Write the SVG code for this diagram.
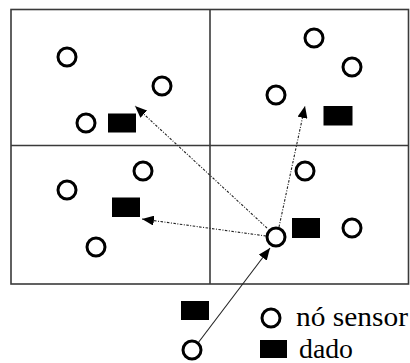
<svg xmlns="http://www.w3.org/2000/svg" width="410" height="363" viewBox="0 0 410 363">
  <style>
    .grid { fill: none; stroke: #3a3a3a; stroke-width: 1.6; }
    .node { fill: #fff; stroke: #000; stroke-width: 3; }
    .data { fill: #000; }
    .dot { fill: none; stroke: #222; stroke-width: 1.1; stroke-dasharray: 2.5 1.5 1 1.5; }
    .solid { fill: none; stroke: #222; stroke-width: 1.1; }
    .lbl { font-family: "Liberation Serif", "DejaVu Serif", serif; font-size: 27px; fill: #000; }
  </style>
  <defs>
    <marker id="head" viewBox="0 0 12 10" refX="12" refY="5" markerWidth="12" markerHeight="10" markerUnits="userSpaceOnUse" orient="auto">
      <path d="M0,0 L12,5 L0,10 Z" fill="#000"/>
    </marker>
  </defs>

  <!-- field divided into four cells -->
  <g id="field">
    <rect class="grid" x="11" y="9.5" width="397.5" height="274.5"/>
    <line class="grid" x1="210" y1="9.5" x2="210" y2="284"/>
    <line class="grid" x1="11" y1="145.5" x2="408.5" y2="145.5"/>
  </g>

  <!-- connectors -->
  <g id="connectors">
    <line class="dot" x1="267" y1="228" x2="135" y2="106" marker-end="url(#head)"/>
    <line class="dot" x1="279" y1="227" x2="305" y2="106" marker-end="url(#head)"/>
    <line class="dot" x1="266" y1="236" x2="142" y2="219" marker-end="url(#head)"/>
    <line class="solid" x1="198" y1="343" x2="270" y2="248" marker-end="url(#head)"/>
  </g>

  <!-- sensor nodes -->
  <g id="n1"><circle class="node" cx="67" cy="57" r="9"/></g>
  <g id="n2"><circle class="node" cx="162" cy="86" r="9"/></g>
  <g id="n3"><circle class="node" cx="86" cy="123" r="9"/></g>
  <g id="n4"><circle class="node" cx="314" cy="38" r="9"/></g>
  <g id="n5"><circle class="node" cx="352" cy="67" r="9"/></g>
  <g id="n6"><circle class="node" cx="276" cy="95" r="9"/></g>
  <g id="n7"><circle class="node" cx="143" cy="171" r="9"/></g>
  <g id="n8"><circle class="node" cx="67" cy="190" r="9"/></g>
  <g id="n9"><circle class="node" cx="96" cy="247" r="9"/></g>
  <g id="n10"><circle class="node" cx="305" cy="171" r="9"/></g>
  <g id="n11"><circle class="node" cx="276" cy="237" r="9"/></g>
  <g id="n12"><circle class="node" cx="352" cy="228" r="9"/></g>
  <g id="n13"><circle class="node" cx="192" cy="350" r="9"/></g>

  <!-- data packets -->
  <g id="d1"><rect class="data" x="108" y="113.5" width="28" height="19"/></g>
  <g id="d2"><rect class="data" x="323.5" y="106" width="29" height="19.5"/></g>
  <g id="d3"><rect class="data" x="112" y="197.5" width="28" height="19.5"/></g>
  <g id="d4"><rect class="data" x="292" y="218" width="28" height="20"/></g>
  <g id="d5"><rect class="data" x="181" y="301" width="28" height="19"/></g>

  <!-- legend -->
  <g id="legend">
    <circle class="node" cx="271" cy="318" r="9"/>
    <text class="lbl" x="296" y="326" textLength="112" lengthAdjust="spacingAndGlyphs">nó sensor</text>
    <rect class="data" x="260" y="340" width="27" height="18"/>
    <text class="lbl" x="299" y="358" textLength="54" lengthAdjust="spacingAndGlyphs">dado</text>
  </g>
</svg>
